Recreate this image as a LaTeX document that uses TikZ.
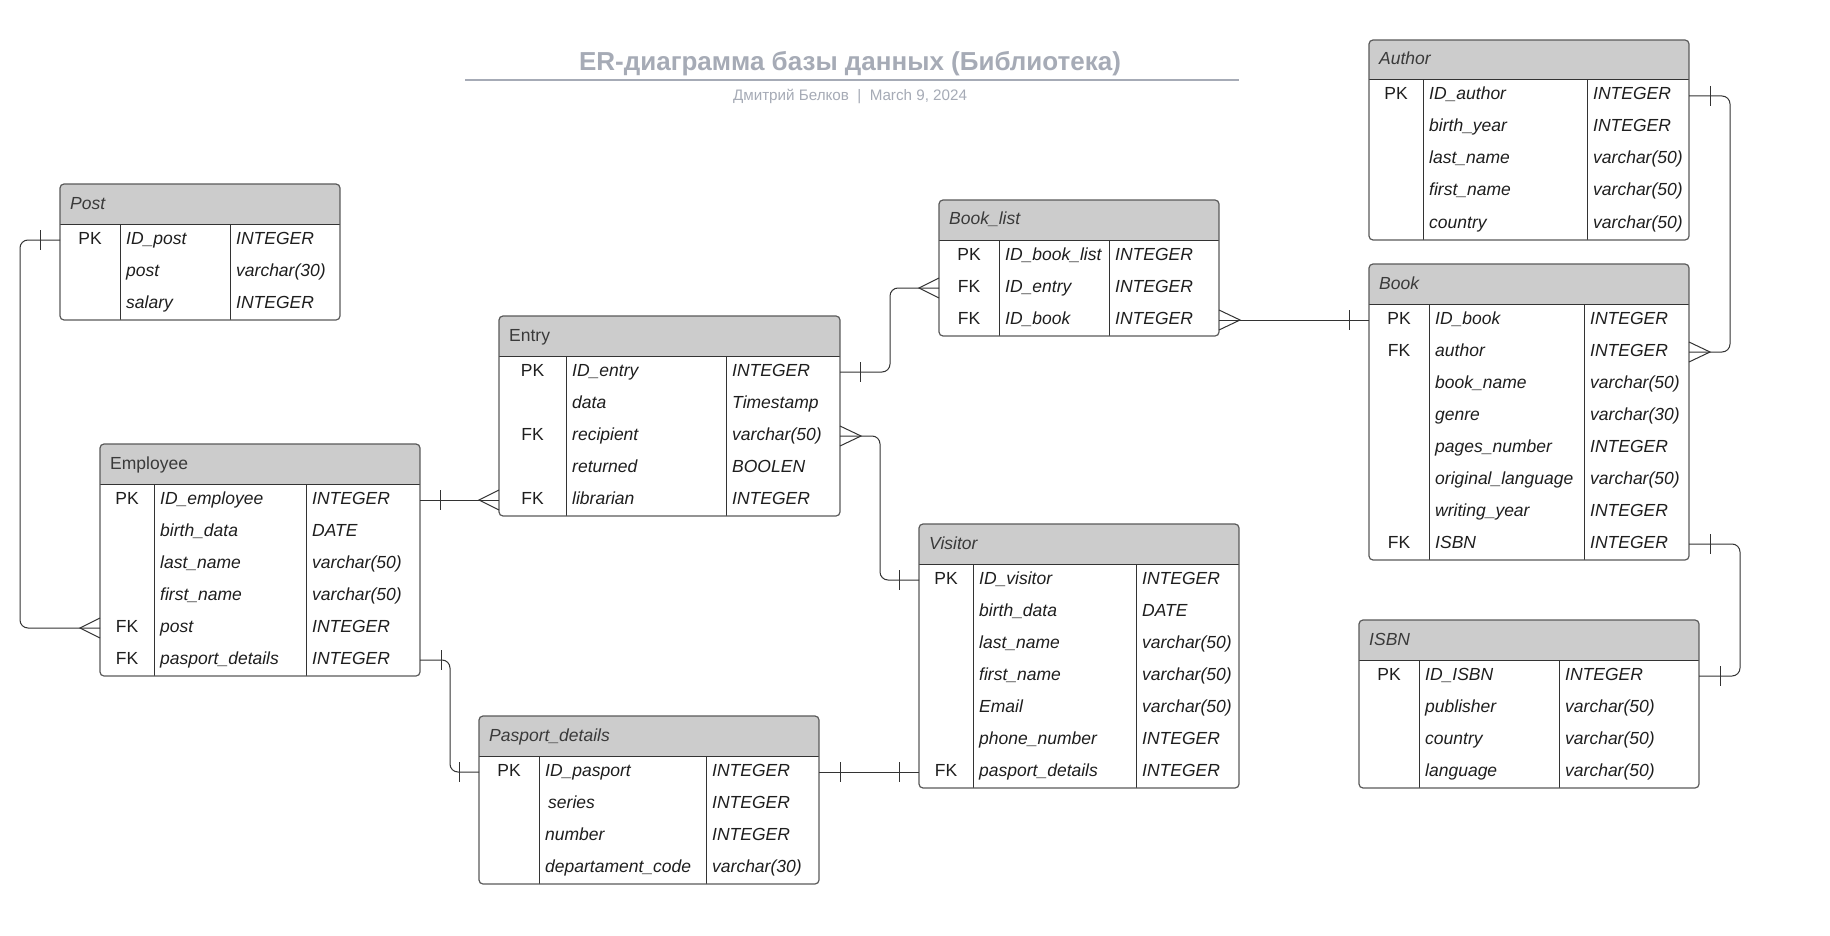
\documentclass[tikz,border=0pt]{standalone}
\usepackage{fontspec}
\setmainfont{Liberation Sans}
\definecolor{hdr}{HTML}{CCCCCC}
\definecolor{bord}{HTML}{5A5A5A}
\definecolor{ink}{HTML}{333333}
\definecolor{txt}{HTML}{1E1E1E}
\definecolor{ttxt}{HTML}{3A3A3A}
\definecolor{ttl}{HTML}{A6ABB6}
\newcommand\erfont{\fontsize{17.5}{20}\selectfont}
\tikzset{
  conn/.style={draw=ink, line width=1pt, rounded corners=8pt},
  marker/.style={draw=ink, line width=1pt},
  rowbox/.style={inner sep=0pt, outer sep=0pt, minimum height=32pt, anchor=north west},
  cell/.style={inner sep=0pt, font=\erfont\itshape, text=txt, anchor=base west},
  keycell/.style={inner sep=0pt, font=\erfont, text=txt, anchor=base},
  hcell/.style={inner sep=0pt, font=\erfont, text=ttxt, anchor=base west},
}
% #1 id, #2 x, #3 y, #4 width, #5 col1, #6 col2, #7 rows, #8 title, #9 row list
\newcommand\ertable[9]{%
  \pgfmathsetmacro\erH{40+32*#7}%
  \node[inner sep=0pt, outer sep=0pt, minimum width=#4pt, minimum height=\erH pt, anchor=north west] (#1) at (#2,#3) {};
  \begin{scope}
    \clip[rounded corners=4pt] (#2,#3) rectangle ++(#4,\erH);
    \fill[hdr] (#2,#3) rectangle ++(#4,40);
  \end{scope}
  \draw[ink, line width=1pt] (#2,#3+40) -- ++(#4,0);
  \draw[ink, line width=1pt] (#2+#5,#3+40) -- (#2+#5,#3+\erH);
  \draw[ink, line width=1pt] (#2+#6,#3+40) -- (#2+#6,#3+\erH);
  \draw[bord, line width=1.2pt, rounded corners=4pt] (#2,#3) rectangle ++(#4,\erH);
  \node[hcell] (#1-title) at (#2+10,#3+25) {#8};
  \foreach \k/\n/\t [count=\i] in {#9} {
    \node[rowbox, minimum width=#4pt] (#1-\i) at (#2,{#3+40+32*(\i-1)}) {};
    \node[keycell] at ({#2+#5/2},{#3+40+32*\i-12}) {\k};
    \node[cell] at ({#2+#5+6},{#3+40+32*\i-12}) {\n};
    \node[cell] at ({#2+#6+6},{#3+40+32*\i-12}) {\t};
  }%
}
% bar at signed distance #2 from anchor #1
\newcommand\erbar[2]{\draw[marker] ([xshift=#2pt, yshift=10pt]#1) -- ([xshift=#2pt, yshift=-10pt]#1);}
% crow's foot with tip at signed distance #2 from anchor #1
\newcommand\ercrow[2]{\draw[marker] ([yshift=10pt]#1) -- ([xshift=#2pt]#1) -- ([yshift=-10pt]#1);}

\begin{document}
\begin{tikzpicture}[x=1pt, y=-1pt]
\useasboundingbox (0,0) rectangle (1830,936);
\fill[white] (0,0) rectangle (1830,936);

% title
\node[inner sep=0pt, anchor=base, text=ttl, font=\fontsize{26}{30}\selectfont\bfseries] (title) at (850,71) {ER-диаграмма базы данных (Библиотека)};
\draw[ttl, line width=2pt] (465,80) -- (1239,80);
\node[inner sep=0pt, anchor=base, text=ttl, font=\fontsize{15.2}{18}\selectfont] (subtitle) at (850,100.5) {Дмитрий Белков\ \ |\ \ March 9, 2024};

% tables
\ertable{post}{60}{184}{280}{60}{170}{3}{\itshape Post}{PK/ID\_post/INTEGER, {}/post/varchar(30), {}/salary/INTEGER}
\ertable{emp}{100}{444}{320}{54}{206}{6}{Employee}{PK/ID\_employee/INTEGER, {}/birth\_data/DATE, {}/last\_name/varchar(50), {}/first\_name/varchar(50), FK/post/INTEGER, FK/pasport\_details/INTEGER}
\ertable{ent}{499}{316}{341}{67}{227}{5}{Entry}{PK/ID\_entry/INTEGER, {}/data/Timestamp, FK/recipient/varchar(50), {}/returned/BOOLEN, FK/librarian/INTEGER}
\ertable{bl}{939}{200}{280}{60}{170}{3}{\itshape Book\_list}{PK/ID\_book\_list/INTEGER, FK/ID\_entry/INTEGER, FK/ID\_book/INTEGER}
\ertable{au}{1369}{40}{320}{54}{218}{5}{\itshape Author}{PK/ID\_author/INTEGER, {}/birth\_year/INTEGER, {}/last\_name/varchar(50), {}/first\_name/varchar(50), {}/country/varchar(50)}
\ertable{bk}{1369}{264}{320}{60}{215}{8}{\itshape Book}{PK/ID\_book/INTEGER, FK/author/INTEGER, {}/book\_name/varchar(50), {}/genre/varchar(30), {}/pages\_number/INTEGER, {}/original\_language/varchar(50), {}/writing\_year/INTEGER, FK/ISBN/INTEGER}
\ertable{vis}{919}{524}{320}{54}{217}{7}{\itshape Visitor}{PK/ID\_visitor/INTEGER, {}/birth\_data/DATE, {}/last\_name/varchar(50), {}/first\_name/varchar(50), {}/Email/varchar(50), {}/phone\_number/INTEGER, FK/pasport\_details/INTEGER}
\ertable{pas}{479}{716}{340}{60}{227}{4}{\itshape Pasport\_details}{PK/ID\_pasport/INTEGER, {}/\hspace{3pt}series/INTEGER, {}/number/INTEGER, {}/departament\_code/varchar(30)}
\ertable{isbn}{1359}{620}{340}{60}{200}{4}{\itshape ISBN}{PK/ID\_ISBN/INTEGER, {}/publisher/varchar(50), {}/country/varchar(50), {}/language/varchar(50)}

% connectors
% Post -> Employee
\draw[conn] (post-1.west) -- ++(-40,0) |- (emp-5.west);
\erbar{post-1.west}{-20}
\ercrow{emp-5.west}{-20}
% Employee -> Entry
\draw[conn] (emp-1.east) -- (ent-5.west);
\erbar{emp-1.east}{20}
\ercrow{ent-5.west}{-20}
% Employee -> Pasport_details
\draw[conn] (emp-6.east) -- ++(30,0) |- (pas-1.west);
\erbar{emp-6.east}{21}
\erbar{pas-1.west}{-20}
% Entry -> Book_list
\draw[conn] (ent-1.east) -- ++(50,0) |- (bl-2.west);
\erbar{ent-1.east}{20}
\ercrow{bl-2.west}{-20}
% Entry -> Visitor
\draw[conn] (ent-3.east) -- ++(40,0) |- (vis-1.west);
\ercrow{ent-3.east}{21}
\erbar{vis-1.west}{-20}
% Book_list -> Book
\draw[conn] (bl-3.east) -- (bk-1.west);
\ercrow{bl-3.east}{21}
\erbar{bk-1.west}{-20}
% Author -> Book
\draw[conn] (au-1.east) -- ++(41,0) |- (bk-2.east);
\erbar{au-1.east}{21}
\ercrow{bk-2.east}{21}
% Book -> ISBN
\draw[conn] (bk-8.east) -- ++(51,0) |- (isbn-1.east);
\erbar{bk-8.east}{21}
\erbar{isbn-1.east}{21}
% Pasport_details -> Visitor
\draw[conn] (pas-1.east) -- (vis-7.west);
\erbar{pas-1.east}{21}
\erbar{vis-7.west}{-20}
\end{tikzpicture}
\end{document}
